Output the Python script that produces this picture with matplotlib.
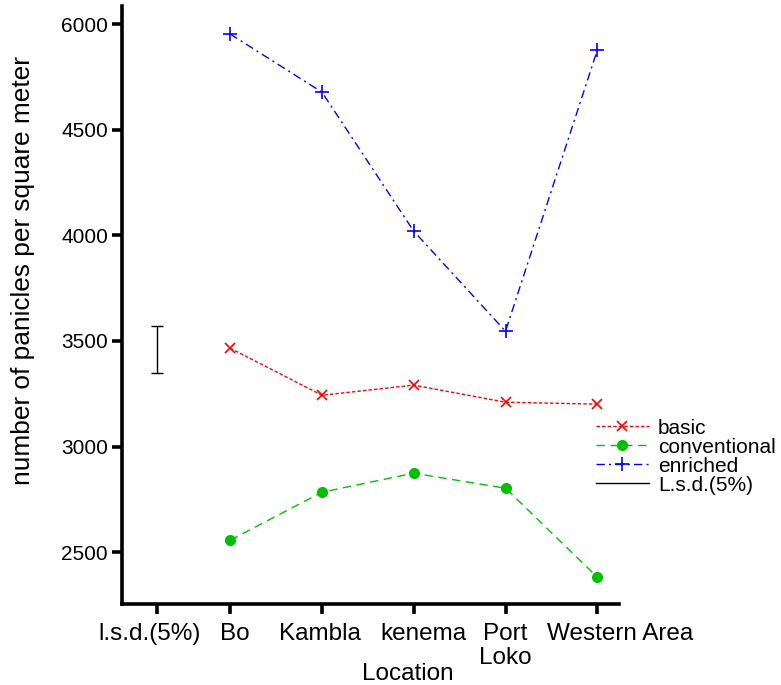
import numpy as np
import matplotlib as mpl
mpl.use('agg')
import matplotlib.pyplot as plt
from matplotlib.lines import Line2D
from matplotlib.transforms import ScaledTranslation, blended_transform_factory

plt.rcParams['font.family'] = ['Liberation Sans', 'DejaVu Sans']

locations = ['Bo', 'Kambla', 'kenema', 'Port\nLoko', 'Western Area']
basic = [3466, 3243, 3291, 3210, 3201]
conventional = [2557, 2784, 2874, 2803, 2382]
enriched = [4953, 4678, 4020, 3546, 4877]
lsd_center = 3460
lsd_half = 111

ytick_vals = [2500, 3000, 3500, 4000, 4500, 5000]
ytick_labels = ['2500', '3000', '3500', '4000', '4500', '6000']


def main():
    fig = plt.figure(figsize=(7.81, 6.85), dpi=100)
    ax = fig.add_axes((0.156, 0.118, 0.637, 0.873))

    x = np.arange(1, len(locations) + 1)
    ax.plot(x, basic, color='#ff0000', linestyle=(0, (2.5, 1.5)), linewidth=1,
            marker='x', markersize=7, markeredgewidth=1.2, label='basic')
    ax.plot(x, conventional, color='#00c000', linestyle=(0, (6, 4)), linewidth=1,
            marker='o', markersize=7, label='conventional')
    ax.plot(x, enriched, color='#0000ff', linestyle=(0, (6, 3, 1.5, 3)), linewidth=1,
            marker='+', markersize=10, markeredgewidth=1.2, label='enriched')
    ax.errorbar([0.2], [lsd_center], yerr=[lsd_half], color='black', linewidth=1,
                capsize=4, capthick=1, fmt='none')

    ax.set_xlim(-0.18, 5.24)
    ax.set_ylim(2254, 5085)
    xticks = [0.2] + list(x)
    ax.set_xticks(xticks)
    ax.set_xticklabels([])
    ax.set_yticks(ytick_vals)
    ax.set_yticklabels(ytick_labels, fontsize=15)

    # x tick labels drawn by hand so crowded ones can be nudged sideways (px)
    shifts = [-7, 5, -2, 10, 0, 23]
    trans = blended_transform_factory(ax.transData, ax.transAxes)
    for xv, lab, dx in zip(xticks, ['l.s.d.(5%)'] + locations, shifts):
        off = ScaledTranslation(dx / 100, -19 / 100, fig.dpi_scale_trans)
        ax.text(xv, 0, lab, transform=trans + off, ha='center', va='top',
                fontsize=17.5, linespacing=1.1)

    for side in ['top', 'right']:
        ax.spines[side].set_visible(False)
    for side in ['left', 'bottom']:
        ax.spines[side].set_linewidth(2.6)
    ax.tick_params(direction='out', length=7, width=2.6, pad=3)

    ax.set_xlabel('Location', fontsize=17.5, va='top')
    ax.xaxis.set_label_coords(0.575, -0.0987)
    ax.set_ylabel('number of panicles per square meter', fontsize=18.9)
    ax.yaxis.set_label_coords(-0.175, 0.5585)

    handles, labels = ax.get_legend_handles_labels()
    handles.append(Line2D([], [], color='black', linewidth=1))
    labels.append('L.s.d.(5%)')
    ax.legend(handles, labels, loc='upper left', bbox_to_anchor=(0.954, 0.31),
              frameon=False, fontsize=15, handlelength=2.5, handletextpad=0.45,
              labelspacing=0.0, borderpad=0, borderaxespad=0)

    fig.savefig('out.png', dpi=100)


if __name__ == '__main__':
    main()
